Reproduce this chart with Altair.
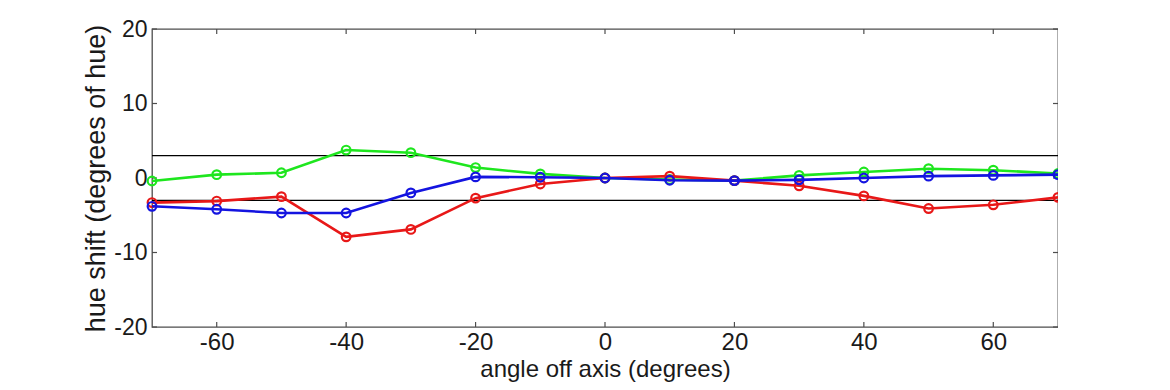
import altair as alt
import pandas as pd

angles = [-70, -60, -50, -40, -30, -20, -10, 0, 10, 20, 30, 40, 50, 60, 70]
green = [-0.4, 0.45, 0.7, 3.75, 3.4, 1.4, 0.55, 0.0, -0.2, -0.35, 0.35, 0.8, 1.25, 1.05, 0.6]
red = [-3.3, -3.1, -2.5, -7.9, -6.9, -2.7, -0.8, 0.0, 0.25, -0.35, -1.05, -2.4, -4.1, -3.6, -2.6]
blue = [-3.8, -4.2, -4.7, -4.7, -2.0, 0.15, 0.1, 0.0, -0.3, -0.35, -0.25, 0.0, 0.25, 0.35, 0.45]
series_names = ["green", "red", "blue"]
series_colors = ["#1ee61e", "#e81818", "#1414e0"]
x_ticks = [-60, -40, -20, 0, 20, 40, 60]
y_ticks = [-20, -10, 0, 10, 20]
limits = [-3, 3]
x_domain = [-70, 70]
y_domain = [-20, 20]

rows = []
for name, vals in zip(series_names, [green, red, blue]):
    for a, v in zip(angles, vals):
        rows.append({"angle": a, "series": name, "shift": v})
df = pd.DataFrame(rows)

FONT = "Liberation Sans"
TXT = "#1a1a1a"
x_scale = alt.Scale(domain=x_domain, nice=False, zero=False)
y_scale = alt.Scale(domain=y_domain, nice=False, zero=False)
color_scale = alt.Scale(domain=series_names, range=series_colors)

x_axis = alt.Axis(values=x_ticks, title="angle off axis (degrees)", grid=False, domain=False,
                  ticks=False, labelExpr="toString(datum.value)",
                  labelPadding=22, labelBaseline="alphabetic", labelFontSize=24, titleFontSize=24,
                  labelFont=FONT, titleFont=FONT, labelColor=TXT, titleColor=TXT,
                  titleFontWeight="normal", titleBaseline="alphabetic", titleY=49)
y_axis = alt.Axis(values=y_ticks, title="hue shift (degrees of hue)", grid=False, domain=False,
                  ticks=False, labelExpr="toString(datum.value)",
                  labelPadding=5, labelFontSize=23, titleFontSize=27,
                  labelFont=FONT, titleFont=FONT, labelColor=TXT, titleColor=TXT,
                  titleFontWeight="normal", titleBaseline="alphabetic", titleX=-48)

X = alt.X("angle:Q", scale=x_scale, axis=x_axis)
Y = alt.Y("shift:Q", scale=y_scale, axis=y_axis)

limit_df = pd.DataFrame({"shift": limits})
limit_rules = alt.Chart(limit_df).mark_rule(color="black", strokeWidth=1.4).encode(y=Y)

# inward tick marks on the four sides of the box
TICK = "#4d4d4d"
xt = pd.DataFrame({"angle": x_ticks, "bot": [y_domain[0]] * len(x_ticks), "top": [y_domain[1]] * len(x_ticks)})
yt = pd.DataFrame({"shift": y_ticks, "left": [x_domain[0]] * len(y_ticks), "right": [x_domain[1]] * len(y_ticks)})
tick_bot = alt.Chart(xt).mark_rule(color=TICK, strokeWidth=1.2, y2Offset=-5).encode(
    x=X, y=alt.Y("bot:Q", scale=y_scale, axis=y_axis), y2="bot:Q")
tick_top = alt.Chart(xt).mark_rule(color=TICK, strokeWidth=1.2, y2Offset=5).encode(
    x=X, y=alt.Y("top:Q", scale=y_scale, axis=y_axis), y2="top:Q")
tick_left = alt.Chart(yt).mark_rule(color=TICK, strokeWidth=1.2, x2Offset=5).encode(
    y=Y, x=alt.X("left:Q", scale=x_scale, axis=x_axis), x2="left:Q")
tick_right = alt.Chart(yt).mark_rule(color=TICK, strokeWidth=1.2, x2Offset=-5).encode(
    y=Y, x=alt.X("right:Q", scale=x_scale, axis=x_axis), x2="right:Q")

layers = [limit_rules, tick_bot, tick_top, tick_left, tick_right]
for name in series_names:
    base = alt.Chart(df).transform_filter(alt.datum.series == name).encode(
        x=X, y=Y, color=alt.Color("series:N", scale=color_scale, legend=None))
    layers.append(base.mark_line(strokeWidth=2.6))
    layers.append(base.mark_point(filled=False, size=75, strokeWidth=2.2, opacity=1))

chart = alt.layer(*layers).properties(
    width=906, height=298,
    padding={"left": 144, "top": 21, "right": 0, "bottom": 56},
    autosize="none",
).configure(background="white").configure_view(stroke="#4d4d4d", strokeWidth=1.3)

chart.save("out.html", embed_options={"renderer": "svg", "actions": False})
